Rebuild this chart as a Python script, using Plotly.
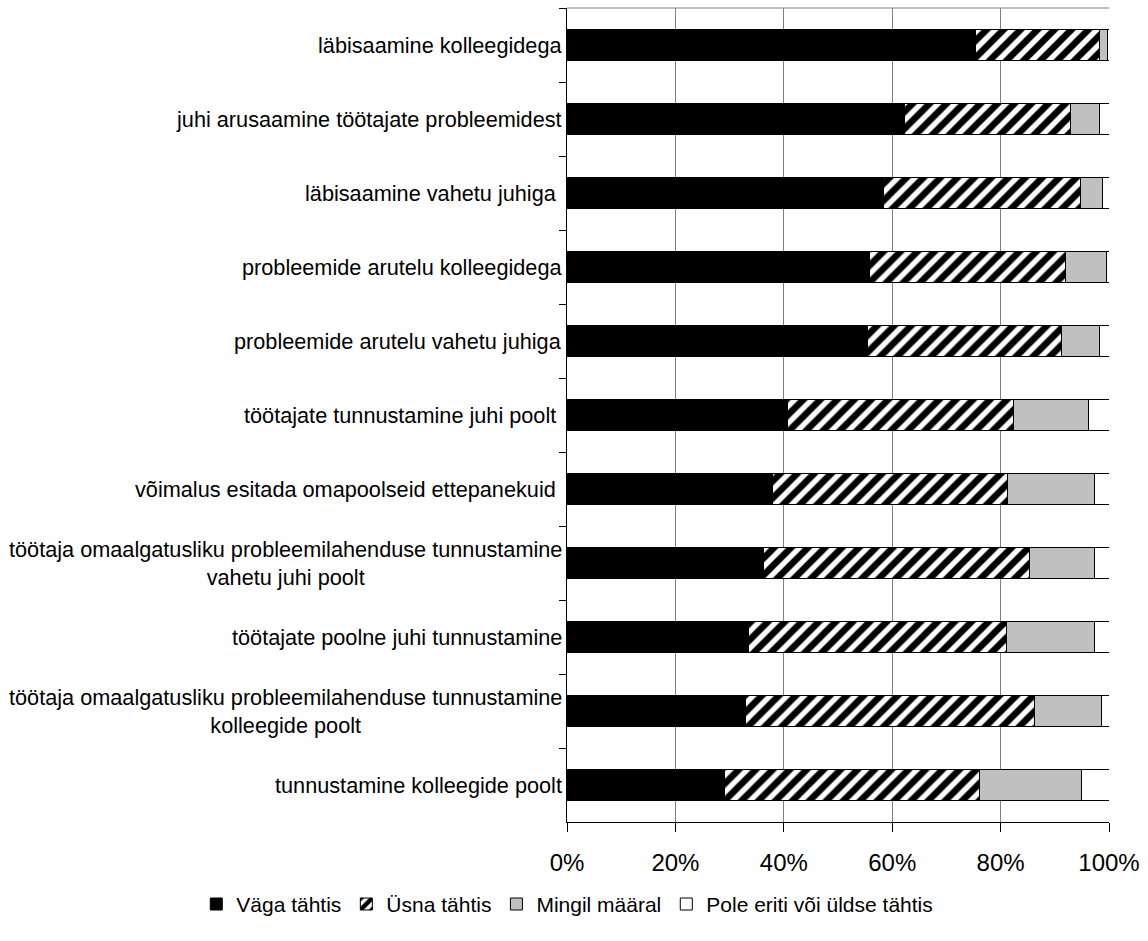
import plotly.graph_objects as go

# Survey items, top to bottom
categories = [
    "läbisaamine kolleegidega",
    "juhi arusaamine töötajate probleemidest",
    "läbisaamine vahetu juhiga ",
    "probleemide arutelu kolleegidega",
    "probleemide arutelu vahetu juhiga",
    "töötajate tunnustamine juhi poolt ",
    "võimalus esitada omapoolseid ettepanekuid ",
    "töötaja omaalgatusliku probleemilahenduse tunnustamine<br>vahetu juhi poolt",
    "töötajate poolne juhi tunnustamine",
    "töötaja omaalgatusliku probleemilahenduse tunnustamine<br>kolleegide poolt",
    "tunnustamine kolleegide poolt",
]

# Shares of answers (%)
vaga_tahtis = [75.3, 62.2, 58.4, 55.9, 55.4, 40.6, 38.0, 36.2, 33.5, 32.9, 29.0]
usna_tahtis = [22.9, 30.7, 36.3, 36.1, 35.8, 41.8, 43.3, 49.2, 47.6, 53.4, 47.1]
mingil_maaral = [1.5, 5.3, 4.1, 7.5, 7.0, 13.8, 16.1, 12.0, 16.2, 12.3, 18.8]
pole_tahtis = [0.3, 1.8, 1.2, 0.5, 1.8, 3.8, 2.6, 2.6, 2.7, 1.4, 5.1]

series_names = ["Väga tähtis", "Üsna tähtis", "Mingil määral", "Pole eriti või üldse tähtis"]
x_ticks = [0, 20, 40, 60, 80, 100]
x_ticktext = ["0%", "20%", "40%", "60%", "80%", "100%"]

FONT = "Liberation Sans, Arial, sans-serif"
outline = dict(color="black", width=1)

fig = go.Figure()
fig.add_trace(go.Bar(
    y=categories, x=vaga_tahtis, name=series_names[0], orientation="h",
    marker=dict(color="black", line=outline),
))
fig.add_trace(go.Bar(
    y=categories, x=usna_tahtis, name=series_names[1], orientation="h",
    marker=dict(color="white", line=outline,
                pattern=dict(shape="/", fgcolor="black", bgcolor="white",
                             size=12, solidity=0.55, fillmode="replace")),
))
fig.add_trace(go.Bar(
    y=categories, x=mingil_maaral, name=series_names[2], orientation="h",
    marker=dict(color="#C0C0C0", line=outline),
))
fig.add_trace(go.Bar(
    y=categories, x=pole_tahtis, name=series_names[3], orientation="h",
    marker=dict(color="white", line=outline),
))

# Category labels as centred multi-line text left of the plot
for cat in categories:
    fig.add_annotation(
        x=0, xref="paper", y=cat, yref="y",
        text=cat, showarrow=False, xanchor="right", xshift=-3,
        align="center", font=dict(family=FONT, size=21.7, color="black"),
    )

# Thin grey frame along the top edge
fig.add_shape(type="line", xref="paper", yref="paper", x0=0, x1=1, y0=1, y1=1,
              line=dict(color="#808080", width=1))

fig.update_layout(
    width=1148, height=941,
    margin=dict(l=567, r=39, t=8, b=119, autoexpand=False),
    barmode="stack", bargap=0.57,
    plot_bgcolor="white", paper_bgcolor="white",
    font=dict(family=FONT, color="black"),
    showlegend=True,
    legend=dict(
        orientation="h", xref="paper", yref="paper",
        x=-0.684, xanchor="left", y=-0.076, yanchor="top",
        font=dict(family=FONT, size=21, color="black"),
        itemwidth=30, tracegroupgap=0, traceorder="normal",
        bgcolor="rgba(0,0,0,0)",
    ),
    xaxis=dict(
        range=[0, 100], tickvals=x_ticks, ticktext=x_ticktext,
        showgrid=True, gridcolor="#808080", gridwidth=1,
        showline=True, linecolor="black", linewidth=1,
        ticks="outside", ticklen=9, tickcolor="black",
        ticklabelstandoff=10,
        tickfont=dict(family=FONT, size=24, color="black"),
        zeroline=False,
    ),
    yaxis=dict(
        autorange="reversed", showticklabels=False,
        showline=True, linecolor="black", linewidth=1,
        ticks="outside", ticklen=7, tickcolor="black", tickson="boundaries",
        showgrid=False,
    ),
)

fig.write_html("out.html")
